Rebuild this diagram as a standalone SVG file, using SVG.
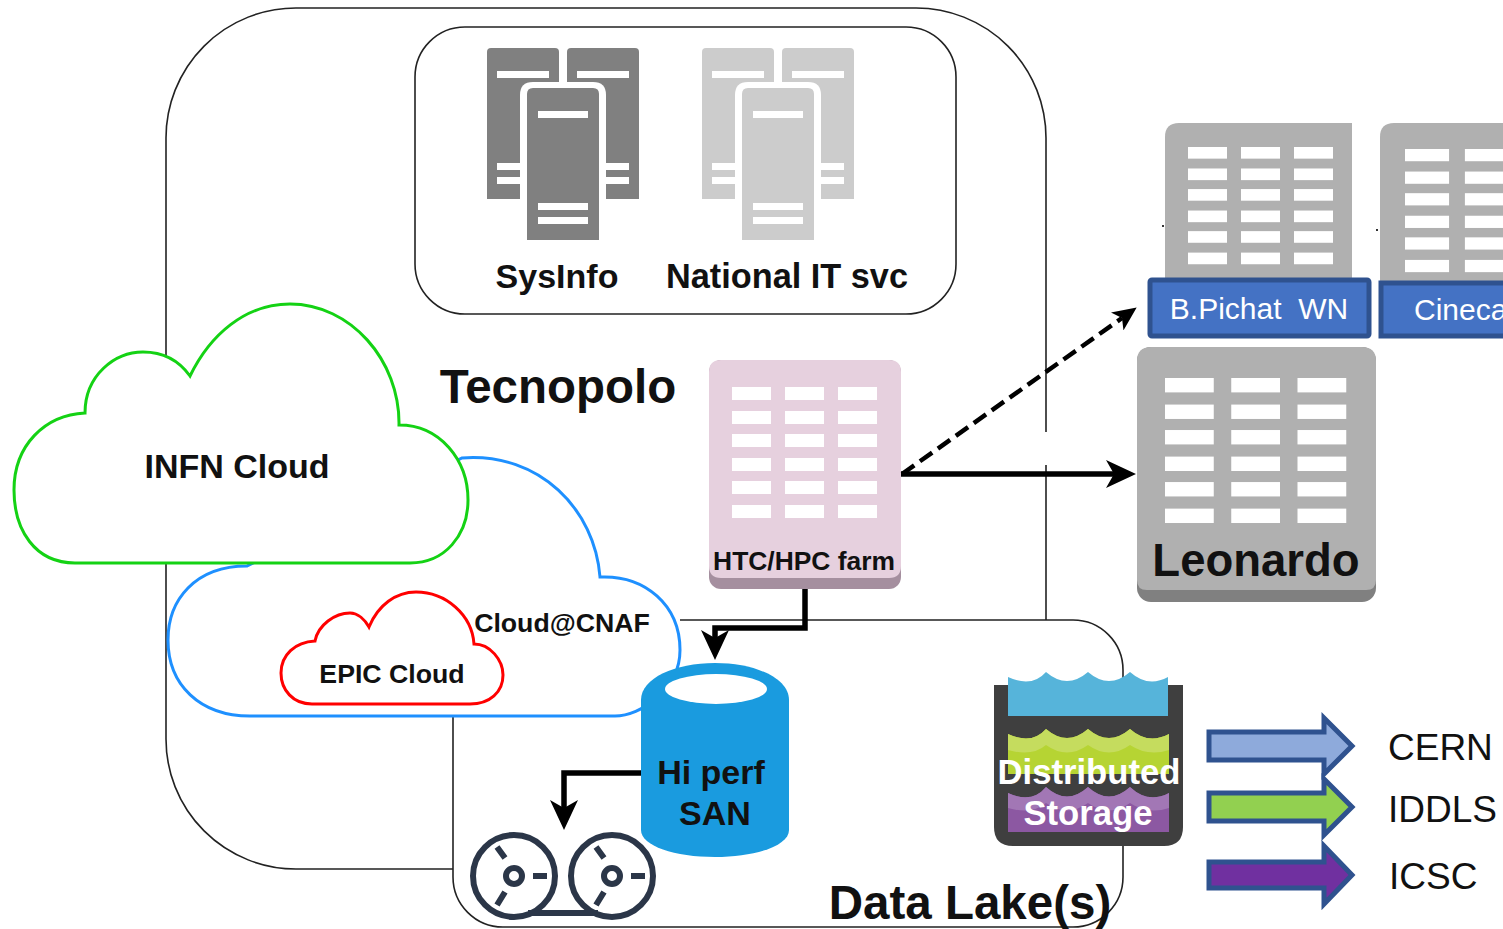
<svg xmlns="http://www.w3.org/2000/svg" width="1503" height="929" viewBox="0 0 1503 929">
<style>
text{font-family:"Liberation Sans",Arial,sans-serif}
.b{font-weight:bold;fill:#111;text-anchor:middle}
.box{fill:none;stroke:#222;stroke-width:1.6}
.w{fill:#fff}
.lab{font-size:37px;fill:#111}
.arr{stroke:#2f528f;stroke-width:5}
.conn{fill:none;stroke:#000;stroke-width:5.500}
</style>
<defs>
<g id="rack3">
<rect x="0" y="0" width="39" height="13" class="w"/><rect x="53" y="0" width="39" height="13" class="w"/><rect x="106" y="0" width="39" height="13" class="w"/>
<rect x="0" y="24" width="39" height="13" class="w"/><rect x="53" y="24" width="39" height="13" class="w"/><rect x="106" y="24" width="39" height="13" class="w"/>
<rect x="0" y="47" width="39" height="13" class="w"/><rect x="53" y="47" width="39" height="13" class="w"/><rect x="106" y="47" width="39" height="13" class="w"/>
<rect x="0" y="71" width="39" height="13" class="w"/><rect x="53" y="71" width="39" height="13" class="w"/><rect x="106" y="71" width="39" height="13" class="w"/>
<rect x="0" y="94" width="39" height="13" class="w"/><rect x="53" y="94" width="39" height="13" class="w"/><rect x="106" y="94" width="39" height="13" class="w"/>
<rect x="0" y="118" width="39" height="13" class="w"/><rect x="53" y="118" width="39" height="13" class="w"/><rect x="106" y="118" width="39" height="13" class="w"/>
</g>
<g id="servers">
<path d="M0 152V5q0-4 4-4H68q4 0 4 4V152Z"/>
<path d="M80 152V5q0-4 4-4H148q4 0 4 4V152Z"/>
<g class="w">
<rect x="10" y="24" width="52" height="7"/><rect x="90" y="24" width="52" height="7"/>
<rect x="10" y="116" width="52" height="7"/><rect x="10" y="130" width="52" height="7"/>
<rect x="90" y="116" width="52" height="7"/><rect x="90" y="130" width="52" height="7"/>
<path d="M33 193V48q0-13 13-13H106q13 0 13 13V193Z"/>
</g>
<path d="M40 193V47q0-6 6-6H106q6 0 6 6V193Z"/>
<g class="w">
<rect x="51" y="64" width="50" height="7"/><rect x="51" y="156" width="50" height="7"/><rect x="51" y="170" width="50" height="7"/>
</g>
</g>
<marker id="ah" viewBox="0 0 30 28" refX="8" refY="14" markerWidth="30" markerHeight="28" markerUnits="userSpaceOnUse" orient="auto"><path d="M0 0L30 14L0 28L8 14Z" fill="#000"/></marker>
<marker id="ah2" viewBox="0 0 24 22" refX="6" refY="11" markerWidth="24" markerHeight="22" markerUnits="userSpaceOnUse" orient="auto"><path d="M0 0L24 11L0 22L6 11Z" fill="#000"/></marker>
</defs>

<g id="tecnopolo">
<path class="box" d="M1046 620V465M1046 432V138A130 130 0 0 0 916 8H296A130 130 0 0 0 166 138V739A130 130 0 0 0 296 869H453"/>
<text x="558" y="403" class="b" style="font-size:47.500px">Tecnopolo</text>
</g>
<g id="services">
<rect class="box" x="415" y="27" width="541" height="287" rx="50"/>
<g id="sysinfo" fill="#808080"><use href="#servers" x="487" y="47"/>
<text x="557" y="288" class="b" style="font-size:34px">SysInfo</text></g>
<g id="national-it" fill="#cccccc"><use href="#servers" x="702" y="47"/>
<text x="787" y="288" class="b" style="font-size:34.300px">National IT svc</text></g>
</g>
<g id="data-lake">
<path class="box" d="M453 700V877A50 50 0 0 0 503 927H1073A50 50 0 0 0 1123 877V670A50 50 0 0 0 1073 620H680"/>
<text x="970" y="919" class="b" style="font-size:47.500px">Data Lake(s)</text>
</g>

<g id="cloud-cnaf">
<path d="M247 566C195 566 168 600 168 640C168 685 200 716 250 716H615C640 716 680 690 680 650C680 605 645 575 600 577C595 510 540 452 462 458Z" fill="#fff" stroke="#1e90ff" stroke-width="3"/>
<text x="562" y="632" class="b" style="font-size:26.700px">Cloud@CNAF</text>
</g>
<g id="infn-cloud">
<path d="M75 563C35 563 14 530 14 490C14 445 45 415 85 413C85 375 115 352 143 352C165 352 180 362 190 376C210 335 245 304 290 304C350 304 400 360 399 425C440 425 468 460 468 500C468 535 445 563 410 563Z" fill="#fff" stroke="#14d214" stroke-width="3"/>
<text x="237" y="478" class="b" style="font-size:34px">INFN Cloud</text>
</g>
<g id="epic-cloud">
<path d="M312 704C293 704 281 690 281 673C281 655 295 642 315 641C318 625 335 613 350 613C358 613 365 620 369 627C378 605 396 592 416 592C446 592 472 615 474 644C490 644 503 660 503 675C503 692 490 704 470 704Z" fill="#fff" stroke="#f00" stroke-width="3"/>
<text x="392" y="683" class="b" style="font-size:26.700px">EPIC Cloud</text>
</g>

<g id="bpichat">
<path d="M1352 282H1165V137Q1165 123 1179 123H1352Z" fill="#b0b0b0"/>
<use href="#rack3" transform="translate(1188 147) scale(1 .895)"/>
<rect x="1162" y="225" width="2" height="2" fill="#333"/>
<rect x="1150" y="280" width="219" height="56" rx="2" fill="#4472c4" stroke="#2f528f" stroke-width="5"/>
<text x="1259" y="319" style="font-size:30px" fill="#fff" text-anchor="middle" xml:space="preserve">B.Pichat  WN</text>
</g>
<g id="cineca">
<path d="M1503 282H1380V137Q1380 123 1394 123H1503Z" fill="#b0b0b0"/>
<use href="#rack3" transform="translate(1405 149) scale(1.13 .94)"/>
<rect x="1376" y="229" width="2" height="2" fill="#333"/>
<path d="M1503 283H1381V336H1503" fill="#4472c4" stroke="#2f528f" stroke-width="5"/>
<text x="1414" y="320" style="font-size:30px" fill="#fff">Cineca</text>
</g>
<g id="leonardo">
<rect x="1137" y="347" width="239" height="255" rx="14" fill="#808080"/>
<path d="M1137 361Q1137 347 1151 347H1362Q1376 347 1376 361V580Q1376 590 1366 590H1147Q1137 590 1137 580Z" fill="#b0b0b0"/>
<use href="#rack3" transform="translate(1165 378) scale(1.25 1.107)"/>
<text x="1256" y="576" class="b" style="font-size:45.500px">Leonardo</text>
</g>
<g id="htc-farm">
<rect x="709" y="360" width="192" height="229" rx="12" fill="#a58f9f"/>
<path d="M709 372Q709 360 721 360H889Q901 360 901 372V566Q901 578 889 578H721Q709 578 709 566Z" fill="#e6d0de"/>
<use href="#rack3" transform="translate(732 387)"/>
<text x="804" y="570" class="b" style="font-size:26.400px">HTC/HPC farm</text>
</g>

<g id="san">
<path d="M641 700C641 678 675 663 715 663C755 663 789 678 789 700V830C789 846 755 857 715 857C675 857 641 846 641 830Z" fill="#1a9bdf"/>
<ellipse cx="716" cy="689" rx="51" ry="15" fill="#fff"/>
<text x="711" y="784" class="b" style="font-size:34px">Hi perf</text>
<text x="715" y="825" class="b" style="font-size:34px">SAN</text>
</g>
<g id="tape" fill="none" stroke="#2b3648" stroke-width="6">
<circle cx="514" cy="876" r="41"/><circle cx="612" cy="876" r="41"/>
<path d="M528 913H598"/>
<circle cx="514" cy="876" r="8"/><circle cx="612" cy="876" r="8"/>
<path d="M533 876H547M631 876H645M505 858L497 847M604 858L596 847M505 892L497 905M604 892L596 905"/>
</g>
<g id="distributed-storage">
<path d="M994 685H1183V827Q1183 846 1164 846H1013Q994 846 994 827Z" fill="#3f3f3f"/>
<path d="M1008 716V677Q1032 688 1046 672Q1067 690 1088 672Q1109 690 1130 672Q1148 688 1168 677V716Z" fill="#56b4da"/>
<path d="M1008 774V734Q1032 745 1046 729Q1067 747 1088 729Q1109 747 1130 729Q1148 745 1169 734V774Z" fill="#b6d433"/>
<path d="M1008 750V734Q1032 745 1046 729Q1067 747 1088 729Q1109 747 1130 729Q1148 745 1169 734V750Q1148 757 1130 745Q1109 760 1088 745Q1067 760 1046 745Q1032 757 1008 750Z" fill="#c5dc5e"/>
<path d="M1008 832V793Q1032 804 1046 787Q1067 806 1088 787Q1109 806 1130 787Q1148 804 1169 793V832Z" fill="#8c58a2"/>
<path d="M1008 808V793Q1032 804 1046 787Q1067 806 1088 787Q1109 806 1130 787Q1148 804 1169 793V808Q1148 815 1130 803Q1109 818 1088 803Q1067 818 1046 803Q1032 815 1008 808Z" fill="#a277b5"/>
<text x="1089" y="784" style="font-size:34.700px;font-weight:bold" fill="#fff" text-anchor="middle">Distributed</text>
<text x="1088" y="825" style="font-size:34.700px;font-weight:bold" fill="#fff" text-anchor="middle">Storage</text>
</g>
<g id="legend">
<path class="arr" fill="#8eaadb" d="M1209 732H1324V718L1352 746L1324 774V760H1209Z"/>
<path class="arr" fill="#92d050" d="M1209 793H1324V779L1352 807L1324 835V821H1209Z"/>
<path class="arr" fill="#7030a0" d="M1209 862H1324V846L1352 875L1324 904V888H1209Z"/>
<text x="1388" y="760" class="lab">CERN</text>
<text x="1388" y="822" class="lab">IDDLS</text>
<text x="1389" y="889" class="lab">ICSC</text>
</g>
<g id="connectors">
<path class="conn" d="M901 474H1114" marker-end="url(#ah)"/>
<path class="conn" style="stroke-dasharray:15 7;stroke-width:4.500" d="M902 474L1122 318" marker-end="url(#ah2)"/>
<path class="conn" d="M805 589V628H715V638" marker-end="url(#ah)"/>
<path class="conn" d="M641 773H564V808" marker-end="url(#ah)"/>
</g>
</svg>
